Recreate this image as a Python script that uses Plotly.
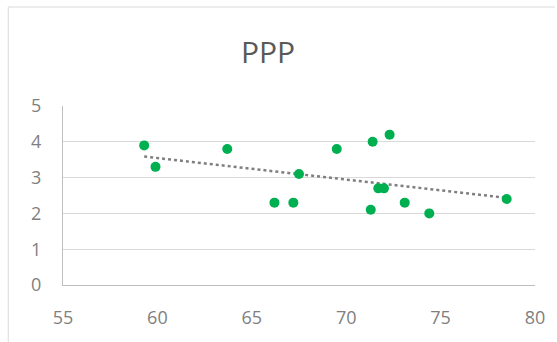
import numpy as np
import plotly.graph_objects as go

x_vals = [59.3, 59.9, 63.7, 66.2, 67.2, 67.5, 69.5, 71.4, 72.3, 71.7, 72.0, 71.3, 73.1, 74.4, 78.5]
y_vals = [3.9, 3.3, 3.8, 2.3, 2.3, 3.1, 3.8, 4.0, 4.2, 2.7, 2.7, 2.1, 2.3, 2.0, 2.4]
title_text = "PPP"
x_ticks = [55, 60, 65, 70, 75, 80]
y_ticks = [0, 1, 2, 3, 4, 5]

slope, intercept = np.polyfit(x_vals, y_vals, 1)
tx = [min(x_vals), max(x_vals)]
ty = [slope * v + intercept for v in tx]

fig = go.Figure()
fig.add_trace(go.Scatter(x=tx, y=ty, mode="lines",
                         line=dict(color="#7f7f7f", width=2.5, dash="dot"),
                         hoverinfo="skip", showlegend=False))
fig.add_trace(go.Scatter(x=x_vals, y=y_vals, mode="markers",
                         marker=dict(color="#00b050", size=10),
                         showlegend=False))

font_family = "Open Sans, Noto Sans, sans-serif"
fig.update_layout(
    width=557, height=342,
    margin=dict(l=63, r=20, t=106, b=57),
    paper_bgcolor="white", plot_bgcolor="white",
    title=dict(text=title_text, x=268/557, xref="container", xanchor="center",
               y=1 - 52/342, yref="container", yanchor="middle",
               font=dict(family=font_family, size=30, color="#595959")),
    xaxis=dict(range=[55, 80], tickvals=x_ticks, showgrid=False, zeroline=False,
               showline=True, linecolor="#bfbfbf", linewidth=1,
               ticks="", tickfont=dict(family=font_family, size=18, color="#7f7f7f"),
               ticklabelstandoff=16),
    yaxis=dict(range=[0, 5], tickvals=y_ticks, showgrid=True, gridcolor="#d9d9d9",
               gridwidth=1.3, zeroline=False, showline=True, linecolor="#bfbfbf",
               linewidth=1, ticks="", ticklabelstandoff=17,
               tickfont=dict(family=font_family, size=18, color="#7f7f7f")),
    shapes=[
        dict(type="line", xref="paper", yref="paper",
             x0=(8-63)/474, x1=(557-63)/474, y0=(285-7)/179, y1=(285-7)/179,
             line=dict(color="#d9d9d9", width=1)),
        dict(type="line", xref="paper", yref="paper",
             x0=(8-63)/474, x1=(8-63)/474, y0=(285-7)/179, y1=(285-345)/179,
             line=dict(color="#d9d9d9", width=1)),
    ],
)
fig.write_html("out.html", config={"displayModeBar": False},
               post_script="document.body.style.margin='0';")
